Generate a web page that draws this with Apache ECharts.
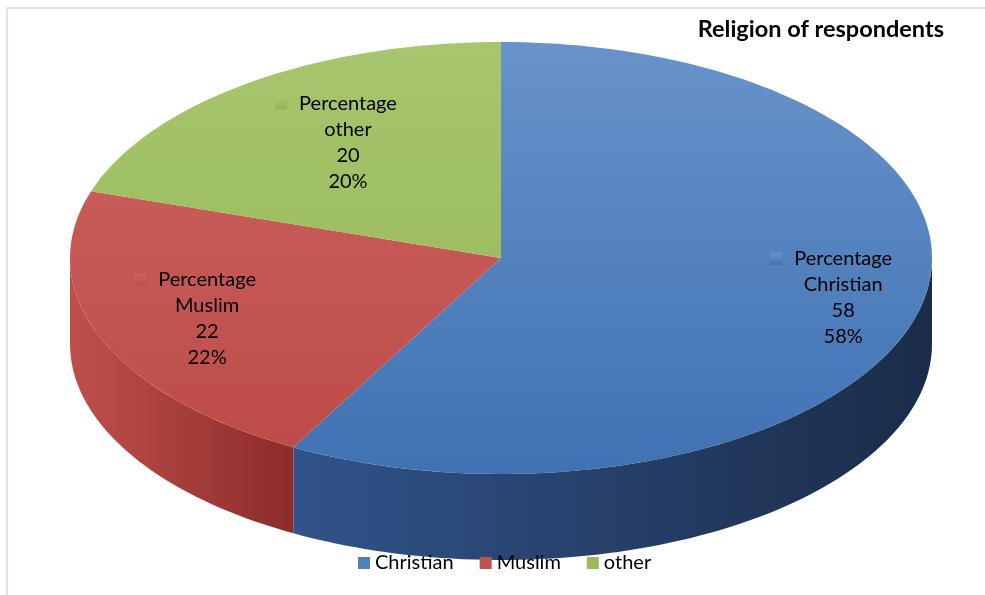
<!DOCTYPE html>
<html>
<head>
<meta charset="utf-8">
<script src="https://cdn.jsdelivr.net/npm/echarts@6/dist/echarts.min.js"></script>
<style>
html,body{margin:0;padding:0;background:#fff;}
#chart{width:985px;height:595px;}
</style>
</head>
<body>
<div id="chart"></div>
<script>
// ---- data ----
var titleText = 'Religion of respondents';
var seriesLabel = 'Percentage';
var categories = ['Christian', 'Muslim', 'other'];
var values = [58, 22, 20];

// ---- style / layout ----
var FONT = 'Lato, "Open Sans", sans-serif';
var topColors = [
  ['#6892CB', '#3F72B3'],
  ['#CC6562', '#BD4A47'],
  ['#A8C66E', '#92B552']
];
var sideColors = [
  ['#31538A', '#1A2C48'],
  ['#C04F4C', '#8C2C2A'],
  ['#8FAE4E', '#6E8A34']
];
var legendColors = ['#4F81BD', '#C0504D', '#9BBB59'];
var CX = 501, CY = 258, RX = 431, RY = 216, DEPTH = 86;
// label block centres, relative to ellipse centre (in units of radii)
var labelOffsets = [[0.794, 0.185], [-0.682, 0.280], [-0.355, -0.535]];

function total() { var s = 0; for (var i = 0; i < values.length; i++) s += values[i]; return s; }
function pt(t, dy) { return [CX + RX * Math.sin(t), CY - RY * Math.cos(t) + (dy || 0)]; }

function makeRender(idx) {
  return function (params, api) {
    var tot = total();
    var before = 0;
    for (var j = 0; j < idx; j++) before += values[j];
    var v = api.value(0);
    var a0 = before / tot * Math.PI * 2;
    var a1 = (before + v) / tot * Math.PI * 2;
    var children = [];
    var N = 120;

    // side wall (front half only: angles between PI/2 and 3PI/2)
    var s = Math.max(a0, Math.PI / 2), e = Math.min(a1, Math.PI * 1.5);
    if (e > s) {
      var pts = [];
      var n = Math.max(2, Math.ceil(N * (e - s) / Math.PI));
      for (var k = 0; k <= n; k++) pts.push(pt(s + (e - s) * k / n, 0));
      for (var k2 = n; k2 >= 0; k2--) pts.push(pt(s + (e - s) * k2 / n, DEPTH));
      var sc = sideColors[idx];
      var xa = pt(s)[0], xb = pt(e)[0];
      var leftX = Math.min(xa, xb), rightX = Math.max(xa, xb);
      children.push({
        type: 'polygon',
        z2: 1,
        shape: { points: pts },
        style: {
          fill: new echarts.graphic.LinearGradient(leftX, 0, rightX, 0, [
            { offset: 0, color: sc[0] }, { offset: 1, color: sc[1] }
          ], true)
        }
      });
    }

    // top face
    var tp = [[CX, CY]];
    var m = Math.max(2, Math.ceil(N * (a1 - a0) / Math.PI));
    for (var q = 0; q <= m; q++) tp.push(pt(a0 + (a1 - a0) * q / m, 0));
    var tc = topColors[idx];
    children.push({
      type: 'polygon',
      z2: 10,
      shape: { points: tp },
      style: {
        fill: new echarts.graphic.LinearGradient(0, CY - RY, 0, CY + RY, [
          { offset: 0, color: tc[0] }, { offset: 1, color: tc[1] }
        ], true)
      }
    });

    // label
    var lx = CX + labelOffsets[idx][0] * RX;
    var ly = CY + labelOffsets[idx][1] * RY;
    var LH = 26;
    var pct = Math.round(v / tot * 100) + '%';
    children.push({
      type: 'text',
      z2: 20,
      style: {
        text: seriesLabel + '\n' + categories[idx] + '\n' + v + '\n' + pct,
        x: lx, y: ly,
        align: 'center', verticalAlign: 'middle',
        fontFamily: FONT, fontSize: 20, lineHeight: LH,
        fill: '#000'
      }
    });
    children.push({
      type: 'rect',
      z2: 20,
      shape: { x: lx - 73, y: ly - 1.5 * LH - 6, width: 12, height: 12 },
      style: {
        fill: new echarts.graphic.LinearGradient(0, 0, 0, 1, [
          { offset: 0, color: tc[0] }, { offset: 1, color: tc[1] }
        ])
      }
    });

    return { type: 'group', children: children };
  };
}

var series = categories.map(function (name, i) {
  return {
    type: 'custom',
    name: name,
    coordinateSystem: 'none',
    itemStyle: { color: legendColors[i] },
    data: [[values[i]]],
    renderItem: makeRender(i),
    silent: true
  };
});

var chart = echarts.init(document.getElementById('chart'), null, { renderer: 'canvas' });
chart.setOption({
  animation: false,
  backgroundColor: '#ffffff',
  title: {
    text: titleText,
    right: 36, top: 12,
    textStyle: { fontFamily: FONT, fontSize: 23.5, fontWeight: 'bold', color: '#000' }
  },
  legend: {
    data: categories,
    left: 353, top: 548,
    icon: 'rect', itemWidth: 12, itemHeight: 12, itemGap: 26,
    selectedMode: false,
    textStyle: { fontFamily: FONT, fontSize: 20, color: '#000', padding: [0, 0, 0, 0] }
  },
  graphic: [{
    type: 'rect',
    z: -1,
    shape: { x: 7, y: 8, width: 1000, height: 600 },
    style: { fill: null, stroke: '#D9E5F4', lineWidth: 2 }
  }],
  series: series
});
</script>
</body>
</html>
